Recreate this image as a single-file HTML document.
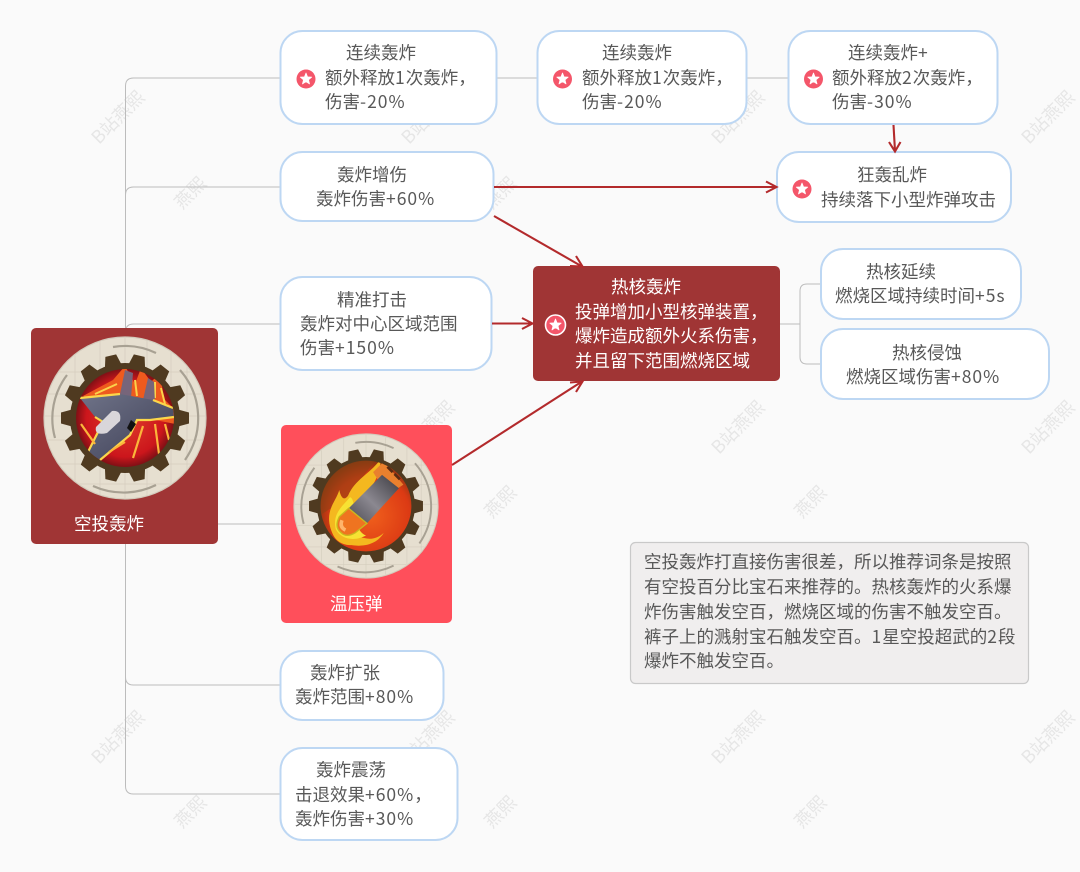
<!DOCTYPE html>
<html><head><meta charset="utf-8">
<style>
html,body{margin:0;padding:0;background:#fafafa}
svg{display:block}
text{font-family:"Noto Sans CJK SC","Liberation Sans",sans-serif;font-size:17.5px;fill:#585858}
.w text{fill:#fff}
text.wm{font-size:18px;fill:#e6e6e6}
tspan.l{letter-spacing:1px}
.n{fill:#fff;stroke:#bdd7f3;stroke-width:2}
.c{fill:none;stroke:#bcbcbc;stroke-width:1}
.r{fill:none;stroke:#b32a2c;stroke-width:2.1}
</style></head><body>
<svg width="1080" height="872" viewBox="0 0 1080 872" xmlns="http://www.w3.org/2000/svg">
<defs>
<clipPath id="disk"><circle r="80"/></clipPath>
<clipPath id="pic"><circle r="49"/></clipPath>
<clipPath id="pic2"><circle r="51"/></clipPath>
<radialGradient id="fire" cx="50%" cy="50%" r="55%"><stop offset="0" stop-color="#e0402c"/><stop offset=".72" stop-color="#cc161c"/><stop offset="1" stop-color="#5c0d12"/></radialGradient>
<radialGradient id="fire2" cx="55%" cy="60%" r="62%"><stop offset="0" stop-color="#f0601c"/><stop offset=".7" stop-color="#dc3a14"/><stop offset="1" stop-color="#7a3410"/></radialGradient>
<linearGradient id="steel" x1="0" y1="0" x2="1" y2="1"><stop offset="0" stop-color="#6f7388"/><stop offset="1" stop-color="#3d3e55"/></linearGradient>
<linearGradient id="cyl" x1="0" y1="1" x2="1" y2="0"><stop offset="0" stop-color="#4b4a52"/><stop offset=".45" stop-color="#8b8890"/><stop offset="1" stop-color="#3b3a40"/></linearGradient>
<path id="tooth" d="M-8.500-53 -5.500-64H5.500L8.500-53Z" fill="#4f3a20"/>
<g id="gear">
<circle r="81" fill="#e6dfd0" stroke="#d3cbbc" stroke-width="1.200"/>
<g clip-path="url(#disk)"><path d="M-81-46H81M-81-24H81M-81-2H81M-81 22H81M-81 46H81M-81 66H81M-50-81V81M-25-81V81M0-81V81M22-81V81M46-81V81M62-81V81" stroke="#cfc8b9" stroke-width=".7" fill="none" opacity=".8"/></g>
<path d="M-12-71A72 72 0 0 1 31-65M55-48A73 73 0 0 1 60 42M31 67A74 74 0 0 1-32 68M-70 20A72 72 0 0 1-58-43" fill="none" stroke="#a8a193" stroke-width="2.200"/>
<circle r="55" fill="#4f3a20"/>
<use href="#tooth" transform="rotate(12.86)"/><use href="#tooth" transform="rotate(38.57)"/><use href="#tooth" transform="rotate(64.29)"/><use href="#tooth" transform="rotate(90)"/><use href="#tooth" transform="rotate(115.71)"/><use href="#tooth" transform="rotate(141.43)"/><use href="#tooth" transform="rotate(167.14)"/><use href="#tooth" transform="rotate(192.86)"/><use href="#tooth" transform="rotate(218.57)"/><use href="#tooth" transform="rotate(244.29)"/><use href="#tooth" transform="rotate(270)"/><use href="#tooth" transform="rotate(295.71)"/><use href="#tooth" transform="rotate(321.43)"/><use href="#tooth" transform="rotate(347.14)"/>
</g>
<path id="star" d="M0-6 1.500-2.100 5.700-1.900 2.500.8 3.500 4.900 0 2.600-3.500 4.900-2.500.8-5.700-1.900-1.500-2.100Z" fill="#fff" stroke="#fff" stroke-width=".8" stroke-linejoin="round"/>
</defs>
<rect width="1080" height="872" fill="#fafafa"/>

<!-- watermarks -->
<text class="wm" transform="translate(99 145) rotate(-45)">B站燕熙</text>
<text class="wm" transform="translate(409 145) rotate(-45)">B站燕熙</text>
<text class="wm" transform="translate(719 145) rotate(-45)">B站燕熙</text>
<text class="wm" transform="translate(1029 145) rotate(-45)">B站燕熙</text>
<text class="wm" transform="translate(409 455) rotate(-45)">B站燕熙</text>
<text class="wm" transform="translate(719 455) rotate(-45)">B站燕熙</text>
<text class="wm" transform="translate(1029 455) rotate(-45)">B站燕熙</text>
<text class="wm" transform="translate(99 765) rotate(-45)">B站燕熙</text>
<text class="wm" transform="translate(409 765) rotate(-45)">B站燕熙</text>
<text class="wm" transform="translate(719 765) rotate(-45)">B站燕熙</text>
<text class="wm" transform="translate(1029 765) rotate(-45)">B站燕熙</text>
<text class="wm" transform="translate(182 210) rotate(-45)">燕熙</text>
<text class="wm" transform="translate(492 210) rotate(-45)">燕熙</text>
<text class="wm" transform="translate(802 210) rotate(-45)">燕熙</text>
<text class="wm" transform="translate(492 519) rotate(-45)">燕熙</text>
<text class="wm" transform="translate(802 519) rotate(-45)">燕熙</text>
<text class="wm" transform="translate(182 829) rotate(-45)">燕熙</text>
<text class="wm" transform="translate(492 829) rotate(-45)">燕熙</text>
<text class="wm" transform="translate(802 829) rotate(-45)">燕熙</text>

<!-- gray connectors -->
<path class="c" d="M125.500 328V86Q125.500 78 133.500 78H280M125.500 195Q125.500 187 133.500 187H280M125.500 332Q125.500 324 133.500 324H280M218 524H281M125.500 544V677Q125.500 685 133.500 685H280M125.500 600V786Q125.500 794 133.500 794H280M497 78H537M747 78H788M780 324H800M821 284H807Q800 284 800 291V357Q800 364 807 364H821"/>

<!-- nodes -->
<rect class="n" x="280.500" y="31" width="216" height="93" rx="22"/>
<rect class="n" x="537.500" y="31" width="209" height="93" rx="22"/>
<rect class="n" x="788.500" y="31" width="209" height="93" rx="22"/>
<rect class="n" x="280.500" y="152" width="213" height="69" rx="22"/>
<rect class="n" x="777" y="152" width="234" height="70" rx="22"/>
<rect class="n" x="280.500" y="277" width="211" height="93" rx="22"/>
<rect class="n" x="821" y="249" width="200" height="70" rx="22"/>
<rect class="n" x="821" y="329" width="228" height="70" rx="22"/>
<rect class="n" x="280.500" y="651" width="163" height="69" rx="22"/>
<rect class="n" x="280.500" y="748" width="177" height="92" rx="22"/>
<rect x="533" y="266" width="247" height="115" rx="5" fill="#a03535"/>
<rect x="31" y="328" width="187" height="216" rx="5" fill="#a03535"/>
<rect x="281" y="425" width="171" height="198" rx="5" fill="#ff4f5b"/>
<rect x="630.500" y="542.500" width="398" height="141" rx="5" fill="#f0eeee" stroke="#c9c9c9" stroke-width="1.200"/>

<!-- red arrows -->
<g class="r">
<path d="M494 187H776M766 181.500 776.500 187 766 192.500"/>
<path d="M494 216 582 266.500M570 266 582.500 266.500 576 256"/>
<path d="M492 323.500H532M522 318 532.500 323.500 522 329"/>
<path d="M452 465 582 381.500M576 392 582.500 381.500 570 382.500"/>
<path d="M893.500 125 895 151M889 142 895 151.500 900.500 142"/>
</g>

<!-- jet icon -->
<g transform="translate(125 418)">
<use href="#gear"/>
<circle r="49" fill="url(#fire)"/>
<g clip-path="url(#pic)">
<path d="M-42-22-12-38 0-52 10-34 16-50 26-36 36-46 38-20 50-8 50 6 20 0Z" fill="#ee5a1e"/>
<path d="M-30-24-8-34M10-38 12-22M30-36 30-20M36-30 40-14" stroke="#fbd24a" stroke-width="2" fill="none"/>
<path d="M-5-24 0-48 8-45 6-20ZM18-18 23-40 29-36 30-14Z" fill="#77657a"/>
<path d="M-45-20-5-24 28-18 48-10 49-1 25 2 12 2 5 17-25 42-37 34-22 4-30-1Z" fill="url(#steel)"/>
<path d="M-45-20-5-24M28-18 48-10M-30-1-22 4-37 34M-25 42 5 17 12 2 25 2 49-1" fill="none" stroke="#fbd64a" stroke-width="2.200"/>
<path d="M30 6 34 36M18 8 8 40M-44 6-30 26M40 6 44 22M-16 34 0 24" stroke="#fbb53a" stroke-width="2.200"/>
<path d="M-29 9-13-7Q-3-8-5 3L-18 15Q-31 18-29 9Z" fill="#d9d6da"/>
<path d="M2 10 6 2 11 6 6 14Z" fill="#111"/>
</g>
</g>

<!-- bullet icon -->
<g transform="translate(366 506) scale(.89)">
<use href="#gear"/>
<circle r="51" fill="url(#fire2)"/>
<g clip-path="url(#pic2)">
<path d="M-51-51H10L-20-10-51 10Z" fill="#8a4214" opacity=".55"/>
<path d="M-38 30C-48 6-34-4-30-18-28-8-24-6-20-12-12-30 4-36 16-52 18-36 4-16-10 0-18 12-16 34-2 36 6 38 14 36 20 30 12 44-4 46-16 44-26 44-34 40-38 30Z" fill="#f4b81f"/>
<path d="M-34 26C-38 8-26 0-18-10-10-8-16 28 0 33-12 40-28 38-34 26Z" fill="#f7e233"/>
<path d="M20-50 42-24 24-12 8-38Z" fill="#e9802e"/>
<path d="M24-44 30-38M32-36 38-30" stroke="#5a2a12" stroke-width="3"/>
<path d="M-19.500 2.600 18-35 37-20 1 19.500Z" fill="url(#cyl)"/>
<path d="M-19.500 2.600-30 12Q-36 24-28 30-22 36-12 30L1 19.500Z" fill="#ef7420" stroke="#c9b81e" stroke-width="1.500"/>
<path d="M-27 16Q-30 24-23 27" stroke="#ffb46a" stroke-width="4" fill="none"/>
</g>
</g>

<!-- badges -->
<g fill="#f4566a">
<circle cx="306" cy="79" r="9.500"/><circle cx="562.500" cy="79" r="9.500"/><circle cx="813.500" cy="79" r="9.500"/><circle cx="802" cy="189" r="9.500"/>
<circle cx="555.500" cy="325" r="10" stroke="#fff" stroke-width="1.600"/>
</g>
<use href="#star" x="306" y="79"/><use href="#star" x="562.500" y="79"/><use href="#star" x="813.500" y="79"/><use href="#star" x="802" y="189"/><use href="#star" x="555.500" y="325"/>

<!-- text -->
<g transform="translate(0 1)">
<text x="346" y="58">连续轰炸</text>
<text x="325" y="83">额外释放<tspan class="l">1</tspan>次轰炸，</text>
<text x="325" y="107">伤害<tspan class="l">-20%</tspan></text>
<text x="602" y="58">连续轰炸</text>
<text x="582" y="83">额外释放<tspan class="l">1</tspan>次轰炸，</text>
<text x="582" y="107">伤害<tspan class="l">-20%</tspan></text>
<text x="848" y="58">连续轰炸<tspan class="l">+</tspan></text>
<text x="832" y="83">额外释放<tspan class="l">2</tspan>次轰炸，</text>
<text x="832" y="107">伤害<tspan class="l">-30%</tspan></text>
<text x="337" y="180">轰炸增伤</text>
<text x="316" y="204">轰炸伤害<tspan class="l">+60%</tspan></text>
<text x="857" y="180">狂轰乱炸</text>
<text x="821" y="205">持续落下小型炸弹攻击</text>
<text x="337" y="305">精准打击</text>
<text x="300" y="329">轰炸对中心区域范围</text>
<text x="300" y="353">伤害<tspan class="l">+150%</tspan></text>
<text x="866" y="277">热核延续</text>
<text x="835" y="301">燃烧区域持续时间<tspan class="l">+5s</tspan></text>
<text x="892" y="358">热核侵蚀</text>
<text x="846" y="382">燃烧区域伤害<tspan class="l">+80%</tspan></text>
<text x="310" y="678">轰炸扩张</text>
<text x="295" y="702">轰炸范围<tspan class="l">+80%</tspan></text>
<text x="316" y="775">轰炸震荡</text>
<text x="295" y="800">击退效果<tspan class="l">+60%</tspan>，</text>
<text x="295" y="824">轰炸伤害<tspan class="l">+30%</tspan></text>
<g class="w">
<text x="611" y="292">热核轰炸</text>
<text x="575" y="317">投弹增加小型核弹装置，</text>
<text x="575" y="341">爆炸造成额外火系伤害，</text>
<text x="575" y="366">并且留下范围燃烧区域</text>
<text x="74" y="529">空投轰炸</text>
<text x="330" y="609">温压弹</text>
</g>
<text x="644" y="567">空投轰炸打直接伤害很差，所以推荐词条是按照</text>
<text x="644" y="592">有空投百分比宝石来推荐的。热核轰炸的火系爆</text>
<text x="644" y="617">炸伤害触发空百，燃烧区域的伤害不触发空百。</text>
<text x="644" y="642">裤子上的溅射宝石触发空百。<tspan class="l">1</tspan>星空投超武的<tspan class="l">2</tspan>段</text>
<text x="644" y="666">爆炸不触发空百。</text>
</g>
</svg>
</body></html>
